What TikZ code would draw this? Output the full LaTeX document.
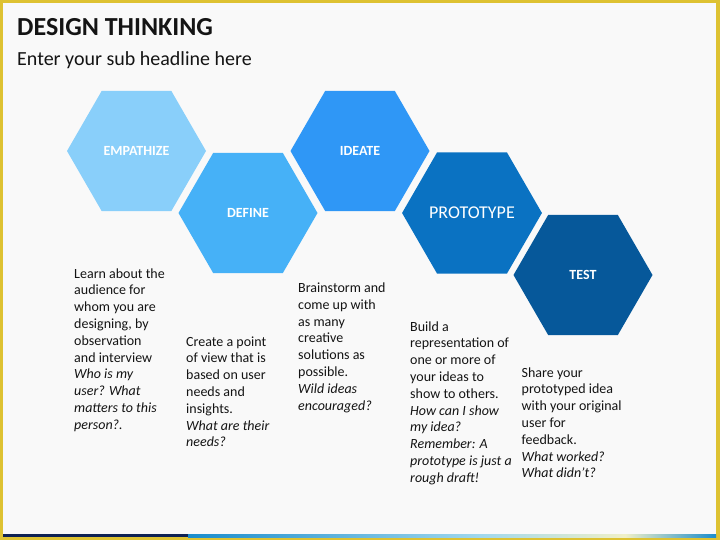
\documentclass[tikz,border=0pt]{standalone}
\usepackage{fontspec}
\setmainfont{Carlito}
\usetikzlibrary{shapes.geometric}
\definecolor{bgc}{RGB}{249,249,249}
\definecolor{yel}{RGB}{222,194,50}
\definecolor{navy}{RGB}{14,34,84}
\definecolor{barblue}{RGB}{26,140,204}
\definecolor{barcyan}{RGB}{160,216,238}
\definecolor{barpale}{RGB}{240,240,200}
\definecolor{txt}{RGB}{20,20,20}
\definecolor{hexA}{RGB}{137,207,250}
\definecolor{hexB}{RGB}{70,177,247}
\definecolor{hexC}{RGB}{47,151,246}
\definecolor{hexD}{RGB}{10,114,194}
\definecolor{hexE}{RGB}{6,88,154}
\newcommand\bline[1]{\hbox{#1}}
\newcommand\colbody[1]{\vtop{\baselineskip=16.8pt #1}}
\tikzset{
  hexa/.style={regular polygon, regular polygon sides=6, minimum size=139pt,
    inner sep=0pt, text=white, font=\fontsize{14}{16}\selectfont\bfseries},
  body/.style={anchor=base west, inner sep=0pt, text=txt,
    font=\fontsize{14}{16.8}\selectfont}
}
\begin{document}
\begin{tikzpicture}[x=1pt,y=-1pt]
\useasboundingbox (0,0) rectangle (720,540);
% frame and background
\fill[yel] (0,0) rectangle (720,540);
\fill[bgc] (3,3) rectangle (716,537);
% bottom bar
\fill[navy] (3,534) rectangle (188,537);
\shade[left color=barblue, right color=barcyan] (188,534) rectangle (480,537);
\shade[left color=barcyan, right color=barpale] (480,534) rectangle (625,537);
\shade[left color=barpale, right color=barblue] (625,534) rectangle (716,537);
% titles
\node[anchor=base west, inner sep=0pt, text=txt, font=\fontsize{26}{30}\selectfont\bfseries] (title) at (17,36) {DESIGN THINKING};
\node[anchor=base west, inner sep=0pt, text=txt, font=\fontsize{20}{24}\selectfont] (sub) at (17,65.5) {Enter your sub headline here};
% hexagons
\node[hexa, fill=hexA] (emp) at (136.5,151) {EMPATHIZE};
\node[hexa, fill=hexB] (def) at (248,213) {DEFINE};
\node[hexa, fill=hexC] (ide) at (360,151) {IDEATE};
\node[hexa, fill=hexD, font=\fontsize{18}{20}\selectfont] (pro) at (472,213) {PROTOTYPE};
\node[hexa, fill=hexE] (tst) at (583,275) {TEST};
% descriptions
\node[body] (t1) at (74,278) {\colbody{%
 \bline{Learn about the}\bline{audience for}\bline{whom you are}\bline{designing, by}%
 \bline{observation}\bline{and interview}\bline{\itshape Who is my}\bline{\itshape user? What}%
 \bline{\itshape matters to this}\bline{\itshape person?.}}};
\node[body] (t2) at (186,346) {\colbody{%
 \bline{Create a point}\bline{of view that is}\bline{based on user}\bline{needs and}%
 \bline{insights.}\bline{\itshape What are their}\bline{\itshape needs?}}};
\node[body] (t3) at (298,292.5) {\colbody{%
 \bline{Brainstorm and}\bline{come up with}\bline{as many}\bline{creative}%
 \bline{solutions as}\bline{possible.}\bline{\itshape Wild ideas}\bline{\itshape encouraged?}}};
\node[body] (t4) at (410,331) {\colbody{%
 \bline{Build a}\bline{representation of}\bline{one or more of}\bline{your ideas to}%
 \bline{show to others.}\bline{\itshape How can I show}\bline{\itshape my idea?}%
 \bline{\itshape Remember: A}\bline{\itshape prototype is just a}\bline{\itshape rough draft!}}};
\node[body] (t5) at (521.5,377) {\colbody{%
 \bline{Share your}\bline{prototyped idea}\bline{with your original}\bline{user for}%
 \bline{feedback.}\bline{\itshape What worked?}\bline{\itshape What didn’t?}}};
\end{tikzpicture}
\end{document}
